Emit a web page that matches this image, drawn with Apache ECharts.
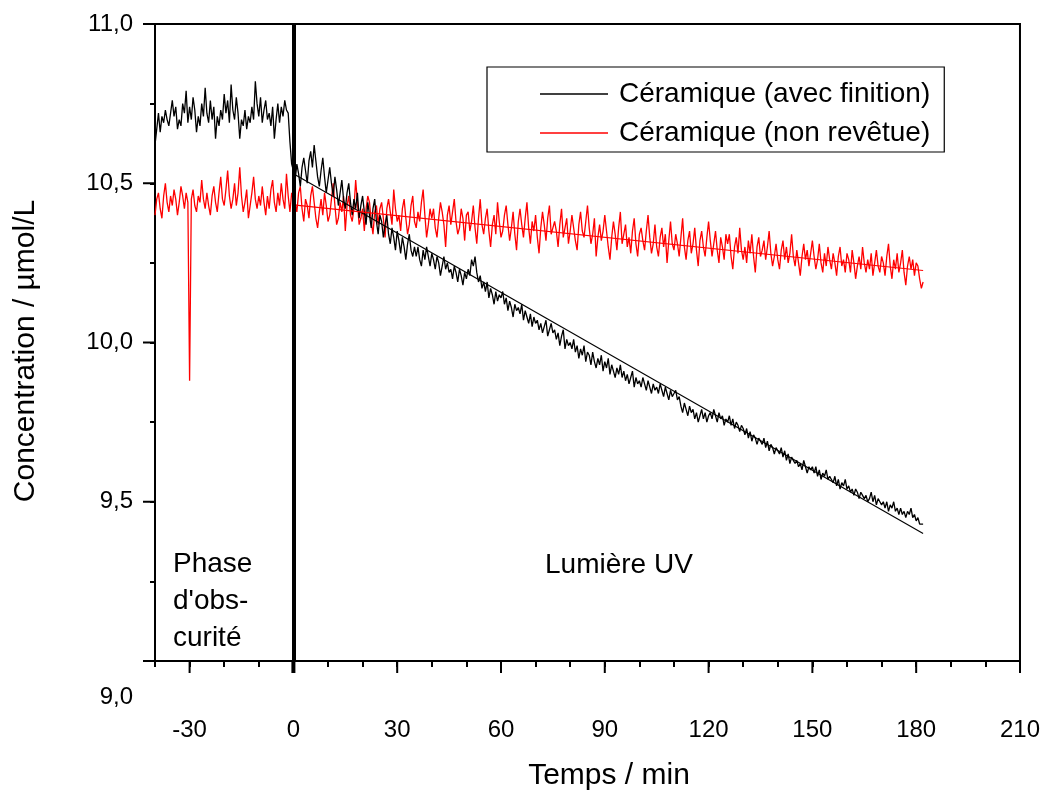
<!DOCTYPE html>
<html>
<head>
<meta charset="utf-8">
<script src="https://cdn.jsdelivr.net/npm/echarts@6/dist/echarts.min.js"></script>
<style>
html,body{margin:0;padding:0;background:#fff;}
#chart{width:1043px;height:794px;}
</style>
</head>
<body>
<div id="chart"></div>
<script>
// ---- data (sampled every 0.5 min, starting at -40 min) ----
const T_START = -40;
const T_STEP = 0.5;

const seriesNames = ['Céramique (avec finition)', 'Céramique (non revêtue)'];

// Céramique (avec finition): dark phase -40 .. 0
const blackDark = [
10.62,10.67,10.72,10.66,10.71,10.69,10.73,10.70,10.68,10.72,
10.76,10.71,10.74,10.67,10.70,10.68,10.75,10.72,10.79,10.69,
10.74,10.70,10.77,10.73,10.66,10.71,10.68,10.75,10.71,10.80,
10.72,10.69,10.76,10.70,10.74,10.64,10.71,10.68,10.73,10.70,
10.78,10.72,10.76,10.69,10.81,10.73,10.70,10.77,10.72,10.64,
10.70,10.68,10.73,10.67,10.71,10.69,10.74,10.70,10.82,10.75,
10.71,10.77,10.69,10.73,10.76,10.70,10.72,10.68,10.74,10.64,
10.70,10.75,10.69,10.74,10.71,10.76,10.73,10.72,10.63,10.56,
10.54];
// Céramique (avec finition): UV light 0.5 .. 182
const blackUV = [
10.51,10.56,10.53,10.49,10.55,10.58,10.54,10.50,10.57,10.60,
10.55,10.62,10.57,10.52,10.49,10.54,10.58,10.52,10.47,10.51,
10.55,10.50,10.46,10.52,10.48,10.43,10.47,10.51,10.45,10.42,
10.47,10.50,10.44,10.40,10.45,10.42,10.47,10.39,10.43,10.46,
10.41,10.37,10.44,10.40,10.36,10.42,10.45,10.38,10.34,10.40,
10.38,10.33,10.37,10.40,10.34,10.31,10.36,10.33,10.29,10.35,
10.32,10.28,10.33,10.30,10.26,10.31,10.34,10.29,10.27,10.30,
10.27,10.30,10.26,10.24,10.29,10.26,10.30,10.27,10.24,10.28,
10.26,10.23,10.27,10.25,10.21,10.24,10.27,10.23,10.25,10.22,
10.23,10.20,10.24,10.22,10.19,10.23,10.21,10.18,10.22,10.20,
10.23,10.21,10.26,10.24,10.27,10.22,10.19,10.21,10.17,10.19,
10.16,10.19,10.14,10.17,10.15,10.12,10.16,10.13,10.15,10.14,
10.16,10.12,10.14,10.10,10.13,10.11,10.08,10.12,10.10,10.11,
10.09,10.12,10.07,10.10,10.08,10.06,10.09,10.05,10.08,10.06,
10.07,10.04,10.06,10.03,10.05,10.07,10.02,10.04,10.06,10.03,
10.04,10.01,10.03,9.99,10.02,10.04,9.98,10.01,9.99,10.00,
9.98,10.01,9.97,9.99,9.95,9.98,9.96,9.99,9.94,9.97,
9.96,9.93,9.97,9.94,9.92,9.95,9.93,9.96,9.91,9.94,
9.92,9.95,9.90,9.93,9.91,9.89,9.92,9.90,9.93,9.89,
9.91,9.88,9.90,9.87,9.89,9.91,9.86,9.89,9.87,9.88,
9.86,9.89,9.87,9.85,9.88,9.86,9.84,9.87,9.85,9.86,
9.84,9.87,9.85,9.83,9.86,9.84,9.82,9.85,9.83,9.84,
9.85,9.82,9.83,9.80,9.78,9.81,9.79,9.77,9.80,9.78,
9.79,9.76,9.78,9.75,9.77,9.79,9.76,9.78,9.75,9.77,
9.78,9.76,9.79,9.77,9.75,9.78,9.76,9.77,9.74,9.76,
9.75,9.77,9.74,9.76,9.73,9.75,9.74,9.72,9.74,9.73,
9.71,9.73,9.70,9.72,9.69,9.71,9.70,9.68,9.70,9.69,
9.68,9.70,9.67,9.69,9.66,9.68,9.67,9.65,9.67,9.66,
9.65,9.67,9.64,9.66,9.63,9.65,9.62,9.64,9.63,9.62,
9.63,9.61,9.62,9.60,9.63,9.61,9.59,9.61,9.60,9.61,
9.59,9.61,9.58,9.60,9.57,9.59,9.58,9.60,9.57,9.58,
9.57,9.56,9.58,9.55,9.57,9.54,9.56,9.55,9.57,9.54,
9.55,9.53,9.54,9.52,9.54,9.53,9.51,9.53,9.52,9.51,
9.52,9.50,9.51,9.53,9.50,9.52,9.49,9.51,9.50,9.49,
9.50,9.48,9.50,9.47,9.49,9.48,9.50,9.47,9.48,9.46,
9.48,9.46,9.47,9.45,9.47,9.46,9.48,9.45,9.46,9.44,
9.45,9.43,9.43,9.43];

// Céramique (non revêtue): dark phase -40 .. 0
const redDark = [
10.40,10.45,10.47,10.42,10.39,10.46,10.50,10.44,10.41,10.46,
10.43,10.48,10.45,10.40,10.44,10.49,10.46,10.42,10.47,10.44,
9.88,10.45,10.48,10.43,10.41,10.46,10.44,10.51,10.45,10.42,
10.47,10.43,10.40,10.46,10.49,10.44,10.41,10.47,10.52,10.45,
10.43,10.48,10.54,10.46,10.42,10.45,10.50,10.43,10.47,10.55,
10.46,10.41,10.44,10.48,10.39,10.43,10.47,10.52,10.45,10.42,
10.46,10.43,10.49,10.44,10.40,10.46,10.42,10.48,10.51,10.44,
10.41,10.47,10.43,10.50,10.45,10.42,10.53,10.46,10.41,10.47,
10.45];
// Céramique (non revêtue): UV light 0.5 .. 182
const redUV = [
10.44,10.41,10.47,10.49,10.42,10.38,10.45,10.43,10.39,10.46,
10.49,10.44,10.39,10.36,10.41,10.45,10.40,10.47,10.43,10.38,
10.40,10.45,10.50,10.43,10.37,10.39,10.44,10.41,10.46,10.35,
10.43,10.46,10.40,10.38,10.42,10.51,10.44,10.37,10.39,10.42,
10.35,10.42,10.46,10.44,10.38,10.34,10.41,10.43,10.37,10.42,
10.44,10.39,10.33,10.42,10.45,10.41,10.37,10.48,10.42,10.38,
10.40,10.35,10.42,10.45,10.39,10.34,10.37,10.43,10.46,10.38,
10.36,10.41,10.38,10.44,10.48,10.40,10.33,10.37,10.42,10.39,
10.42,10.36,10.33,10.39,10.44,10.41,10.37,10.30,10.40,10.43,
10.37,10.41,10.45,10.38,10.34,10.36,10.42,10.39,10.32,10.40,
10.41,10.35,10.38,10.43,10.36,10.31,10.39,10.45,10.37,10.34,
10.39,10.42,10.35,10.30,10.37,10.40,10.34,10.44,10.38,10.33,
10.35,10.40,10.43,10.37,10.32,10.36,10.41,10.34,10.29,10.38,
10.42,10.37,10.33,10.39,10.44,10.36,10.31,10.38,10.35,10.40,
10.33,10.28,10.36,10.41,10.37,10.32,10.39,10.43,10.34,10.36,
10.38,10.35,10.30,10.37,10.42,10.33,10.36,10.39,10.31,10.35,
10.40,10.36,10.32,10.29,10.37,10.41,10.35,10.33,10.38,10.43,
10.36,10.31,10.34,10.39,10.27,10.33,10.37,10.32,10.35,10.40,
10.35,10.30,10.26,10.33,10.38,10.34,10.29,10.36,10.41,10.31,
10.34,10.37,10.30,10.33,10.28,10.35,10.39,10.31,10.27,10.34,
10.36,10.32,10.29,10.35,10.40,10.33,10.28,10.31,10.37,10.30,
10.27,10.33,10.36,10.30,10.34,10.25,10.32,10.38,10.31,10.29,
10.34,10.31,10.27,10.33,10.39,10.30,10.26,10.32,10.35,10.28,
10.31,10.36,10.29,10.24,10.32,10.35,10.30,10.27,10.33,10.38,
10.32,10.27,10.31,10.35,10.29,10.25,10.33,10.30,10.26,10.34,
10.31,10.34,10.27,10.23,10.30,10.33,10.28,10.36,10.29,10.26,
10.30,10.25,10.32,10.28,10.34,10.27,10.22,10.30,10.33,10.27,
10.29,10.32,10.26,10.30,10.35,10.28,10.24,10.27,10.31,10.26,
10.23,10.29,10.32,10.26,10.30,10.25,10.28,10.34,10.27,10.24,
10.29,10.25,10.21,10.27,10.31,10.26,10.29,10.24,10.28,10.32,
10.27,10.23,10.26,10.31,10.25,10.22,10.28,10.24,10.30,10.26,
10.23,10.28,10.25,10.21,10.27,10.30,10.24,10.26,10.22,10.28,
10.26,10.22,10.29,10.25,10.20,10.24,10.27,10.23,10.30,10.25,
10.22,10.26,10.23,10.28,10.21,10.25,10.29,10.24,10.22,10.27,
10.25,10.21,10.27,10.31,10.24,10.20,10.26,10.23,10.28,10.22,
10.25,10.29,10.22,10.18,10.24,10.27,10.23,10.26,10.21,10.25,
10.24,10.20,10.17,10.19];

// linear fits over the UV phase: [t, value] end points
const blackFit = [[0, 10.53], [182, 9.40]];
const redFit = [[0, 10.432], [182, 10.226]];

// axes
const X_MIN = -40, X_MAX = 210, X_MINOR = 10;
const xMajorTicks = [-30, 0, 30, 60, 90, 120, 150, 180, 210];
const Y_MIN = 9.0, Y_MAX = 11.0, Y_MINOR = 0.25;
const yMajorTicks = [9.0, 9.5, 10.0, 10.5, 11.0];
const darkLineAt = 0;

// texts
const xTitle = 'Temps / min';
const yTitle = 'Concentration / µmol/L';
const darkText = "Phase\nd'obs-\ncurité";
const uvText = 'Lumière UV';

// ---- build ----
function pairs(values) {
  return values.map((v, i) => [T_START + i * T_STEP, v]);
}
const blackData = pairs(blackDark.concat(blackUV));
const redData = pairs(redDark.concat(redUV));

const FONT = "'Liberation Sans', Arial, Helvetica, sans-serif";
const isMajor = (v, step) => Math.abs(v / step - Math.round(v / step)) < 1e-6;

const chart = echarts.init(document.getElementById('chart'), null, {renderer: 'canvas'});

const option = {
  animation: false,
  backgroundColor: '#fff',
  textStyle: {fontFamily: FONT, color: '#000'},
  grid: {
    left: 155, right: 22, top: 24, bottom: 133,
    show: true, borderColor: '#000', borderWidth: 2, backgroundColor: 'transparent'
  },
  legend: {
    data: seriesNames,
    orient: 'vertical',
    left: 487, top: 67,
    width: 468,
    padding: [11, 14, 3, 53],
    itemGap: 7,
    icon: 'rect',
    itemWidth: 68,
    itemHeight: 1.5,
    borderColor: '#000',
    borderWidth: 1.2,
    backgroundColor: '#fff',
    textStyle: {fontFamily: FONT, fontSize: 28, color: '#000', lineHeight: 32, padding: [0, 0, 0, 6]},
    selectedMode: false
  },
  xAxis: {
    type: 'value',
    min: X_MIN, max: X_MAX, interval: X_MINOR,
    splitLine: {show: false},
    axisLine: {show: true, onZero: false, lineStyle: {color: '#000', width: 2}},
    axisTick: {show: true, length: 6, lineStyle: {color: '#000', width: 2}},
    axisLabel: {
      margin: 57, fontSize: 24, fontFamily: FONT, color: '#000',
      showMinLabel: true, showMaxLabel: true,
      formatter: v => isMajor(v, 30) ? String(Math.round(v)) : ''
    }
  },
  yAxis: {
    type: 'value',
    min: Y_MIN, max: Y_MAX, interval: Y_MINOR,
    splitLine: {show: false},
    axisLine: {show: true, onZero: false, lineStyle: {color: '#000', width: 2}},
    axisTick: {show: true, length: 5, lineStyle: {color: '#000', width: 2}},
    axisLabel: {
      margin: 22, fontSize: 24, fontFamily: FONT, color: '#000',
      showMinLabel: true, showMaxLabel: true,
      formatter: v => {
        if (!isMajor(v, 0.5)) return '';
        const s = v.toFixed(1).replace('.', ',');
        return Math.abs(v - Y_MIN) < 1e-6 ? '{low|' + s + '}' : s;
      },
      rich: {low: {fontSize: 24, fontFamily: FONT, color: '#000', padding: [72, 0, 0, 0]}}
    }
  },
  series: [
    {
      name: seriesNames[0], type: 'line', data: blackData,
      showSymbol: false, symbol: 'none', z: 3,
      lineStyle: {color: '#000', width: 1.3}, itemStyle: {color: '#000'},
      markLine: {
        silent: true, symbol: 'none', label: {show: false},
        lineStyle: {color: '#000', width: 4, type: 'solid'},
        data: [{xAxis: darkLineAt}]
      }
    },
    {
      name: seriesNames[1], type: 'line', data: redData,
      showSymbol: false, symbol: 'none', z: 2,
      lineStyle: {color: '#ff0000', width: 1.3}, itemStyle: {color: '#ff0000'}
    },
    {
      name: 'fitBlack', type: 'line', data: blackFit,
      showSymbol: false, symbol: 'none', z: 4,
      lineStyle: {color: '#000', width: 1.2}
    },
    {
      name: 'fitRed', type: 'line', data: redFit,
      showSymbol: false, symbol: 'none', z: 4,
      lineStyle: {color: '#ff0000', width: 1.2}
    },
    {
      name: 'xMajorTicks', type: 'custom', silent: true, z: 5,
      data: xMajorTicks.map(v => [v, Y_MIN]),
      renderItem: (params, api) => {
        const p = api.coord([api.value(0), api.value(1)]);
        const w = api.value(0) === darkLineAt ? 4 : 2;
        return {type: 'line', shape: {x1: p[0], y1: p[1], x2: p[0], y2: p[1] + 12},
                style: {stroke: '#000', lineWidth: w}};
      }
    },
    {
      name: 'yMajorTicks', type: 'custom', silent: true, z: 5,
      data: yMajorTicks.map(v => [X_MIN, v]),
      renderItem: (params, api) => {
        const p = api.coord([api.value(0), api.value(1)]);
        return {type: 'line', shape: {x1: p[0] - 12, y1: p[1], x2: p[0], y2: p[1]},
                style: {stroke: '#000', lineWidth: 2}};
      }
    }
  ],
  graphic: [
    {type: 'text', x: 609, y: 776, silent: true,
     style: {text: xTitle, font: '30px ' + FONT, fill: '#000', align: 'center', verticalAlign: 'middle'}},
    {type: 'text', x: 26, y: 351, rotation: Math.PI / 2, silent: true,
     style: {text: yTitle, font: '30px ' + FONT, fill: '#000', align: 'center', verticalAlign: 'middle'}},
    {type: 'text', x: 173, y: 546, silent: true,
     style: {text: darkText, font: '28px ' + FONT, lineHeight: 37, fill: '#000', align: 'left', verticalAlign: 'top'}},
    {type: 'text', x: 545, y: 565, silent: true,
     style: {text: uvText, font: '28px ' + FONT, fill: '#000', align: 'left', verticalAlign: 'middle'}}
  ]
};
chart.setOption(option);
</script>
</body>
</html>
